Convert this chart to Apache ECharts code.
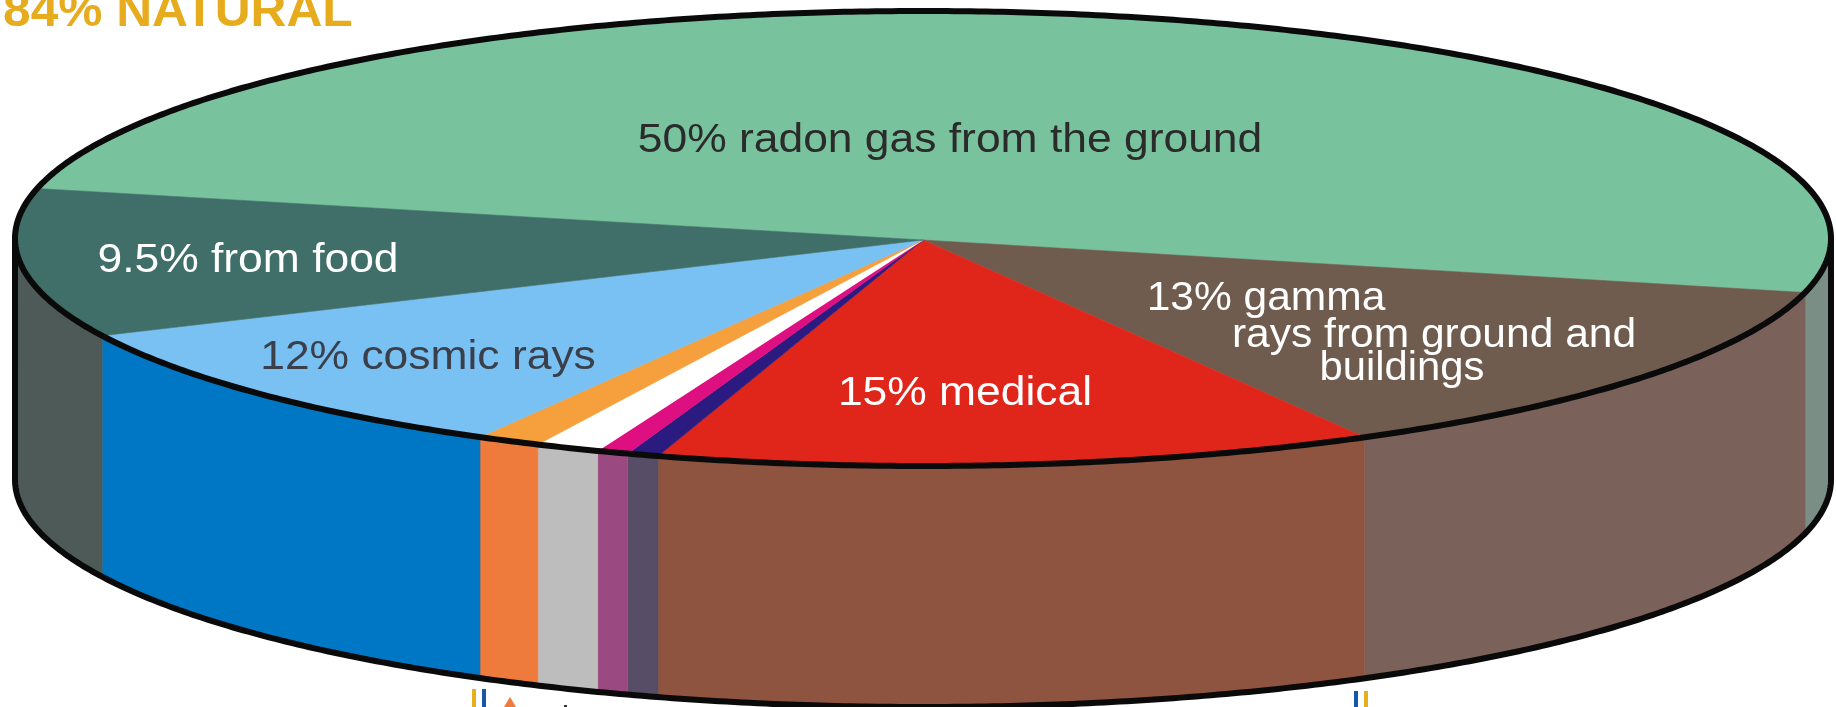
<!DOCTYPE html>
<html><head><meta charset="utf-8">
<style>html,body{margin:0;padding:0;background:#fff}#c{width:1836px;height:707px}</style>
<script src="https://cdn.jsdelivr.net/npm/echarts@6/dist/echarts.min.js"></script>
</head><body><div id="c"></div>
<script>
// Slices clockwise from the radon / food edge; shares are the drawn widths.
const sliceNames = ['radon gas','gamma rays','medical','navy slice','magenta slice','white slice','orange slice','cosmic rays','food'];
const sliceShares = [50.3, 13.1, 12.8, 0.56, 0.56, 1.14, 1.14, 9.86, 10.56];
const topColors  = ['#78c39d','#6f5c4f','#e0261b','#2b1a80','#de0f80','#ffffff','#f5a03c','#79c0f3','#3f6f68'];
const wallColors = ['#7b8e86','#7a615a','#8f5440','#574d66','#9a4a80','#bdbdbd','#ee7a3c','#0077c4','#4d5a58'];
const labelTexts = ['50% radon gas from the ground','13% gamma','rays from ground and','buildings','15% medical','12% cosmic rays','9.5% from food'];
const labelColors = ['#2b2b2b','#ffffff','#ffffff','#ffffff','#ffffff','#3a3f4a','#ffffff'];
const labelX = [950,1266,1434,1402,965,428,248];
const labelY = [141,299,336,369,394,358,261];
const labelStretch = [1.11,1.063,1.063,1.045,1.11,1.11,1.11];
const headline = '84% NATURAL';

const CX = 923, CY = 238.5, RX = 908, RY = 227.5, DEPTH = 241, APEX_Y = 240, START = 192.7;
const total = sliceShares.reduce((a,b)=>a+b,0);
const pt = (deg, dy) => { const r = deg*Math.PI/180; return [CX+RX*Math.cos(r), CY+RY*Math.sin(r)+(dy||0)]; };
const arc = (a,b,dy) => { const out=[], n=Math.max(2,Math.ceil(Math.abs(b-a)*2)); for(let i=0;i<=n;i++) out.push(pt(a+(b-a)*i/n,dy)); return out; };
const starts = []; sliceShares.reduce((s,v,i)=>{starts[i]=s; return s+v/total*360;}, START);

function renderWall(params, api){
  const i = params.dataIndex, a = starts[i], b = a + api.value(0)/total*360;
  const parts = [];
  // the visible front of the cylinder is the 0..180 degree range (plus its +360 wrap)
  [0,360].forEach(off=>{
    const lo = Math.max(a, off), hi = Math.min(b, off+180);
    if(hi>lo){
      const top = arc(lo,hi,0), bottom = arc(hi,lo,DEPTH);
      parts.push({type:'polygon', shape:{points:top.concat(bottom)}, style:{fill:wallColors[i], stroke:wallColors[i], lineWidth:0.6}});
    }
  });
  return {type:'group', children:parts};
}
function renderTop(params, api){
  const i = params.dataIndex, a = starts[i], b = a + api.value(0)/total*360;
  return {type:'polygon', shape:{points:[[CX,APEX_Y]].concat(arc(a,b,0))}, style:{fill:topColors[i], stroke:topColors[i], lineWidth:0.6}};
}
function renderRim(){
  const s = {fill:'none', stroke:'#0a0a0a', lineWidth:6, lineJoin:'round'};
  return {type:'group', children:[
    {type:'polyline', shape:{points:arc(0,360,0)}, style:s},
    {type:'polyline', shape:{points:[pt(0,0)].concat(arc(0,180,DEPTH),[pt(180,0)])}, style:s}
  ]};
}
const shareData = sliceShares.map((v,i)=>({value:[v], name:sliceNames[i]}));
const textEls = labelTexts.map((t,i)=>({type:'text', x:labelX[i], y:labelY[i], scaleX:labelStretch[i], silent:true,
  style:{text:t, fill:labelColors[i], font:'40px "Liberation Sans", Arial, sans-serif', align:'center', verticalAlign:'middle'}}));
const extras = [
  {type:'rect', shape:{x:472,y:689,width:4,height:18}, style:{fill:'#e8ae1c'}},
  {type:'rect', shape:{x:482,y:689,width:4,height:18}, style:{fill:'#1558a8'}},
  {type:'rect', shape:{x:1354,y:691,width:4,height:16}, style:{fill:'#1558a8'}},
  {type:'rect', shape:{x:1364,y:691,width:4,height:16}, style:{fill:'#e8ae1c'}},
  {type:'polygon', shape:{points:[[504,707],[510,697],[516,707]]}, style:{fill:'#ee7a3c'}},
  {type:'rect', shape:{x:564,y:705,width:3,height:2}, style:{fill:'#333'}},
  {type:'text', x:3, y:37, scaleX:1.035, style:{text:headline, fill:'#e6ac1e', font:'bold 48px "Liberation Sans", Arial, sans-serif', align:'left', verticalAlign:'bottom'}}
];
const chart = echarts.init(document.getElementById('c'), null, {renderer:'canvas'});
chart.setOption({
  animation:false, backgroundColor:'#ffffff',
  tooltip:{show:false},
  series:[
    {type:'custom', name:'wall', coordinateSystem:'none', silent:true, renderItem:renderWall, data:shareData, z:1},
    {type:'custom', name:'top', coordinateSystem:'none', silent:true, renderItem:renderTop, data:shareData, z:2},
    {type:'custom', name:'rim', coordinateSystem:'none', silent:true, renderItem:renderRim, data:[[1]], z:3}
  ],
  graphic:{elements:textEls.concat(extras).map(e=>Object.assign({z:10},e))}
});
</script></body></html>
